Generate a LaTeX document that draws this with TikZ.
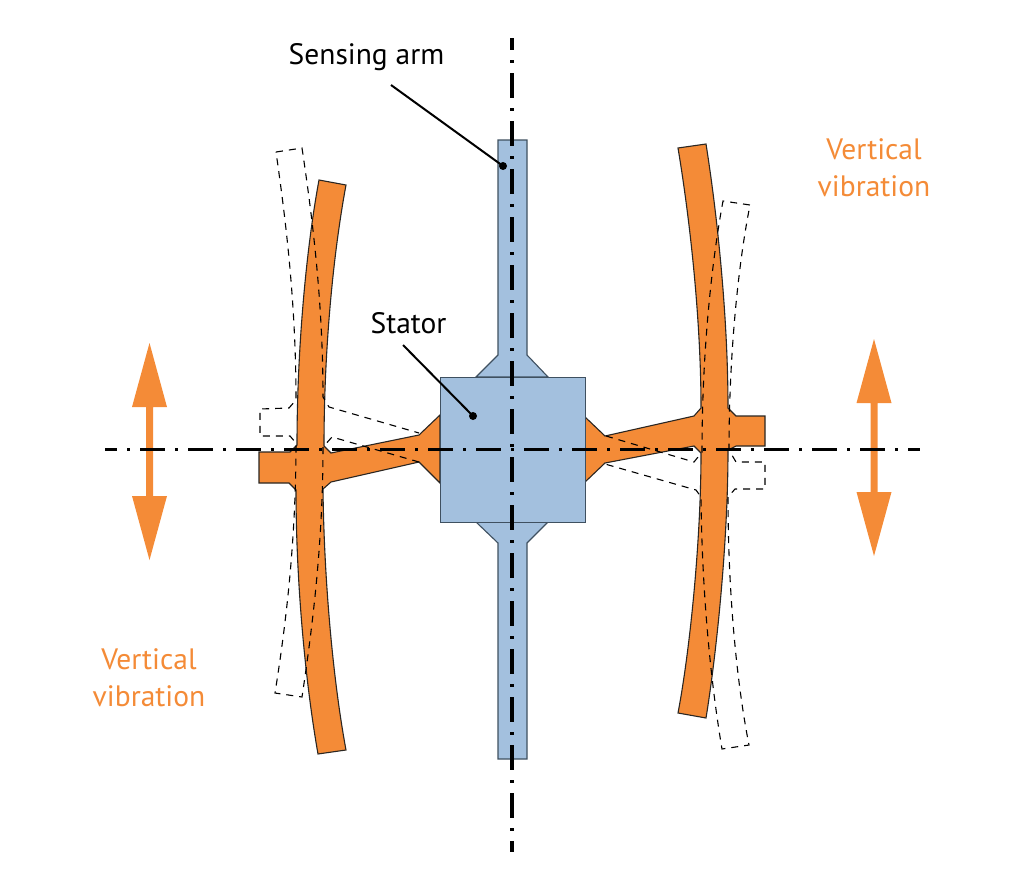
\documentclass[tikz,border=0pt]{standalone}
\usepackage{fontspec}
\setmainfont{PT Sans}
\definecolor{armorange}{HTML}{F48B37}
\definecolor{statorblue}{HTML}{A3C0DE}
\definecolor{edgeblue}{HTML}{3F5060}
\definecolor{edgedark}{HTML}{2A2622}
\tikzset{
  orangepart/.style={fill=armorange,draw=edgedark,line width=1.1pt,line join=miter},
  bluepart/.style={fill=statorblue,draw=edgeblue,line width=1.1pt},
  ghostpart/.style={draw=black,line width=1.1pt,dash pattern=on 7pt off 6pt},
  centerline/.style={draw=black,line width=3.1pt,dash pattern=on 25pt off 10pt on 2.5pt off 10.5pt,dash phase=13pt},
  motionarrow/.style={fill=armorange,draw=none},
  blacklabel/.style={text=black,font=\fontsize{29.5}{32}\selectfont,inner sep=0pt},
  orangelabel/.style={text=armorange,font=\fontsize{29.5}{37}\selectfont,inner sep=0pt,align=center},
  leader/.style={draw=black,line width=2pt},
  leaderdot/.style={circle,fill=black,inner sep=0pt,minimum size=8pt}
}
\begin{document}
\begin{tikzpicture}[x=1pt,y=-1pt]
\useasboundingbox (0,0) rectangle (1024,878);
% left arm
\draw[orangepart] (319,180) -- (346,185)
  .. controls (333,255) and (324,350) .. (324,446) -- (331,453) -- (419,435) -- (440,415)
  -- (440,483) -- (419,462) -- (331,482) -- (323,489)
  .. controls (324,580) and (333,680) .. (346,750) -- (318,754)
  .. controls (305,680) and (296,580) .. (296,490) -- (289,483) -- (259,483) -- (259,452) -- (290,452) -- (297,445)
  .. controls (297,350) and (306,250) .. (319,180) -- cycle;
% right arm
\draw[orangepart] (678,148) -- (706,144)
  .. controls (718,220) and (728,320) .. (728,408) -- (736,416) -- (765,416) -- (765,446) -- (736,446) -- (728,450)
  .. controls (728,540) and (717,650) .. (706,718) -- (678,713)
  .. controls (690,650) and (701,540) .. (701,453) -- (694,446) -- (605,463) -- (584,483)
  -- (584,416) -- (605,436) -- (694,416) -- (701,408)
  .. controls (701,320) and (690,220) .. (678,148) -- cycle;
% displaced left arm
\draw[ghostpart] (276,152) -- (302,148)
  .. controls (312,215) and (323,300) .. (323,397) -- (329,407) -- (419,433);
\draw[ghostpart] (419,462) -- (332,437) -- (323,447)
  .. controls (323,545) and (312,630) .. (302,697) -- (275,693)
  .. controls (285,630) and (296,545) .. (296,443) -- (290,436) -- (260,436) -- (260,409) -- (289,408) -- (296,400)
  .. controls (296,300) and (285,215) .. (276,152);
% displaced right arm
\draw[ghostpart] (606,436) -- (694,462) -- (702,452)
  .. controls (702,350) and (712,260) .. (723,201) -- (750,205)
  .. controls (739,260) and (729,350) .. (729,450) -- (736,462) -- (765,462) -- (765,489) -- (735,489) -- (728,497)
  .. controls (728,600) and (738,690) .. (749,745) -- (722,749)
  .. controls (712,690) and (702,600) .. (701,497) -- (696,490) -- (605,464);
% stator and sensing arms
\draw[bluepart] (498,140) -- (527,140) -- (527,355) -- (548,377) -- (476,377) -- (498,355) -- cycle;
\draw[bluepart] (476,522) -- (548,522) -- (527,543) -- (527,759) -- (498,759) -- (498,543) -- cycle;
\node[bluepart,draw,minimum width=145pt,minimum height=145pt,inner sep=0pt,anchor=north west] (stator) at (440,377) {};
% motion arrows
\fill[motionarrow] (149.5,343) -- (167,407) -- (153,407) -- (153,496) -- (167,496) -- (149.5,560) -- (132,496) -- (146,496) -- (146,407) -- (132,407) -- cycle;
\fill[motionarrow] (874,339) -- (891.5,403) -- (877.5,403) -- (877.5,492) -- (891.5,492) -- (874,556) -- (856.5,492) -- (870.5,492) -- (870.5,403) -- (856.5,403) -- cycle;
% center lines
\coordinate (vtop) at (512,38);
\coordinate (vbot) at (512,852);
\coordinate (hleft) at (105,449.5);
\coordinate (hright) at (920,449.5);
\draw[centerline] (vtop) -- (vbot);
\draw[centerline] (hleft) -- (hright);
% labels
\node[blacklabel] (sensing) at (366.5,57.5) {Sensing arm};
\node[blacklabel] (statorlabel) at (408.5,323.5) {Stator};
\node[orangelabel] (vibright) at (874,168) {Vertical\\vibration};
\node[orangelabel] (vibleft) at (149,678) {Vertical\\vibration};
\coordinate (sensingstart) at (391,85);
\coordinate (statorstart) at (403,345);
\node[leaderdot] (sensingdot) at (503,166) {};
\node[leaderdot] (statordot) at (473,416) {};
\draw[leader] (sensingstart) -- (sensingdot.center);
\draw[leader] (statorstart) -- (statordot.center);
\end{tikzpicture}
\end{document}
